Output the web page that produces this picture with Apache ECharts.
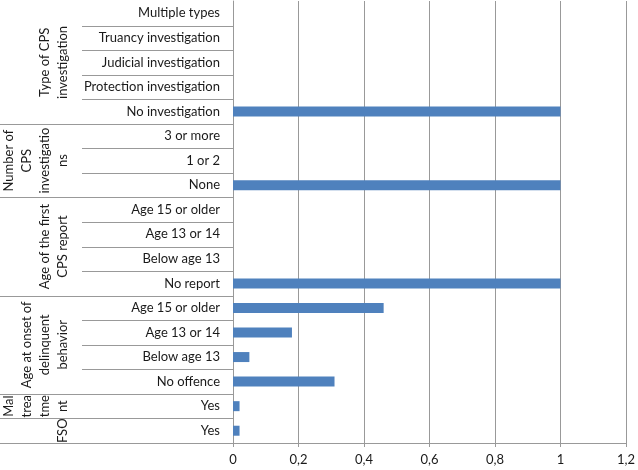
<!DOCTYPE html>
<html><head><meta charset="utf-8">
<script src="https://cdn.jsdelivr.net/npm/echarts@6/dist/echarts.min.js"></script>
<style>html,body{margin:0;padding:0;background:#fff}#c{width:638px;height:470px}</style>
</head><body><div id="c"></div>
<script>
const groups = ["Type of CPS\ninvestigation", "Number of\nCPS\ninvestigatio\nns", "Age of the first\nCPS report", "Age at onset of\ndelinquent\nbehavior", "Mal\ntrea\ntme\nnt", "FSO"];
const groupSizes = [5, 3, 4, 4, 1, 1];
const categories = ["Multiple types", "Truancy investigation", "Judicial investigation", "Protection investigation", "No investigation",
  "3 or more", "1 or 2", "None",
  "Age 15 or older", "Age 13 or 14", "Below age 13", "No report",
  "Age 15 or older", "Age 13 or 14", "Below age 13", "No offence",
  "Yes", "Yes"];
const values = [0, 0, 0, 0, 1, 0, 0, 1, 0, 0, 0, 1, 0.46, 0.18, 0.05, 0.31, 0.02, 0.02];
const xTicks = [0, 0.2, 0.4, 0.6, 0.8, 1, 1.2];

const FONT = 'Lato';
const chart = echarts.init(document.getElementById('c'), null, {renderer: 'canvas'});
const option = {
  animation: false,
  grid: {left: 233, right: 10, top: 1, bottom: 27, containLabel: false},
  xAxis: {
    type: 'value', min: xTicks[0], max: xTicks[xTicks.length - 1], interval: 0.2,
    axisLine: {show: true, lineStyle: {color: '#999', width: 1}},
    axisTick: {show: true, length: 4, lineStyle: {color: '#999'}},
    splitLine: {show: true, lineStyle: {color: '#999', width: 1}},
    axisLabel: {color: '#1a1a1a', fontFamily: FONT, fontSize: 13, margin: 10,
      formatter: v => String(+v.toFixed(1)).replace('.', ',')}
  },
  yAxis: {
    type: 'category', inverse: true, data: categories,
    axisLine: {show: true, lineStyle: {color: '#999'}},
    axisTick: {show: false},
    axisLabel: {color: '#1a1a1a', fontFamily: FONT, fontSize: 13, margin: 13, interval: 0}
  },
  series: [{
    type: 'bar', data: values, barWidth: 10,
    itemStyle: {color: '#4f81bd'}
  }]
};
chart.setOption(option);

// structural lines and group labels derived from the axis scale
const elems = [];
const yOf = i => chart.convertToPixel({yAxisIndex: 0}, i);
const half = (yOf(1) - yOf(0)) / 2;
let start = 0;
groupSizes.forEach((n, gi) => {
  const yTop = yOf(start) - half;
  const yBot = yOf(start + n - 1) + half;
  // separators inside the group (category column only)
  for (let k = 1; k < n; k++) {
    const y = Math.round(yOf(start + k) - half) + 0.5;
    elems.push({type: 'line', shape: {x1: 82, y1: y, x2: 233, y2: y}, style: {stroke: '#999', lineWidth: 1}, silent: true});
  }
  // full-width group boundary below the group
  const yb = Math.round(yBot) + 0.5;
  elems.push({type: 'line', shape: {x1: 0, y1: yb, x2: 233, y2: yb}, style: {stroke: '#999', lineWidth: 1}, silent: true});
  elems.push({type: 'text', x: 72, y: (yTop + yBot) / 2, rotation: Math.PI / 2,
    style: {text: groups[gi], fill: '#1a1a1a', font: '13px ' + FONT, align: 'center', verticalAlign: 'bottom', lineHeight: 18}, silent: true});
  start += n;
});
chart.setOption({graphic: elems});
</script></body></html>
